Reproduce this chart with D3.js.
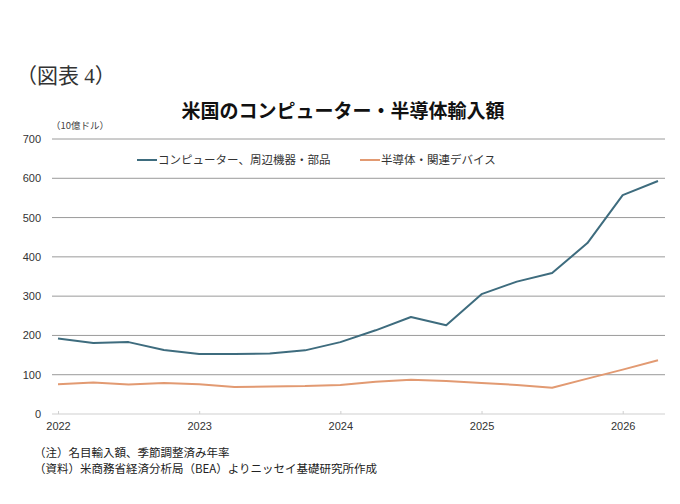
<!DOCTYPE html>
<html>
<head>
<meta charset="utf-8">
<script src="https://cdn.jsdelivr.net/npm/d3@7"></script>
<style>
  body { margin: 0; background: #fff; }
  svg { display: block; }
  text { font-family: "Noto Sans CJK JP", sans-serif; }
</style>
</head>
<body>
<svg id="chart" width="680" height="504"></svg>
<script>
// quarterly, 2022Q1 .. 2026Q2 (10億ドル)
var quarters = ["2022Q1","2022Q2","2022Q3","2022Q4","2023Q1","2023Q2","2023Q3","2023Q4",
  "2024Q1","2024Q2","2024Q3","2024Q4","2025Q1","2025Q2","2025Q3","2025Q4","2026Q1","2026Q2"];
var computers = [192, 181, 183, 163, 153, 153, 154, 162, 183, 213, 247, 226, 305, 337, 359, 435, 557, 593];
var semis = [76, 80, 75, 79, 76, 69, 70, 71, 74, 82, 87, 84, 79, 74, 67, 90, 113, 137];
var yTicks = [0, 100, 200, 300, 400, 500, 600, 700];
var yearLabels = ["2022", "2023", "2024", "2025", "2026"];

var series = [
  { name: "コンピューター、周辺機器・部品", values: computers, color: "#3e6c7e" },
  { name: "半導体・関連デバイス", values: semis, color: "#e29a72" }
];

var svg = d3.select("#chart");

var x = d3.scaleLinear().domain([0, quarters.length - 1]).range([58, 658]);
var y = d3.scaleLinear().domain([0, 700]).range([414, 139]);

// header
svg.append("text").attr("x", 16).attr("y", 83)
  .style("font-family", "'Liberation Serif', 'Noto Sans CJK JP', serif")
  .style("font-size", "21px").attr("fill", "#333").text("（図表 4）");
svg.append("text").attr("x", 343).attr("y", 118).attr("text-anchor", "middle")
  .style("font-size", "19px").style("font-weight", "bold").attr("fill", "#111")
  .text("米国のコンピューター・半導体輸入額");
svg.append("text").attr("x", 51).attr("y", 129)
  .style("font-size", "9.5px").attr("fill", "#444").text("（10億ドル）");

// grid
svg.append("g").selectAll("line").data(yTicks.filter(function(d){ return d > 0; }))
  .enter().append("line")
  .attr("x1", 52).attr("x2", 665)
  .attr("y1", function(d){ return y(d); }).attr("y2", function(d){ return y(d); })
  .attr("stroke", "#9a9a9a").attr("stroke-width", 1);

svg.append("line").attr("x1", 52).attr("x2", 665).attr("y1", y(0)).attr("y2", y(0))
  .attr("stroke", "#cfcfcf").attr("stroke-width", 1);

// y labels
svg.append("g").selectAll("text").data(yTicks).enter().append("text")
  .attr("x", 41).attr("y", function(d){ return y(d) + 4; })
  .attr("text-anchor", "end")
  .style("font-family", "'Liberation Sans Narrow', 'Liberation Sans', sans-serif")
  .style("font-size", "11px").attr("fill", "#333")
  .text(function(d){ return d; });

// x labels, one per year at Q1
var xAxis = d3.axisBottom(x)
  .tickValues(yearLabels.map(function(d, i){ return i * 4; }))
  .tickFormat(function(d, i){ return yearLabels[i]; })
  .tickSize(3);
var gx = svg.append("g").attr("transform", "translate(0," + y(0) + ")").call(xAxis);
gx.select(".domain").remove();
gx.selectAll(".tick line").attr("stroke", "#cfcfcf").attr("y1", -3).attr("y2", 0);
gx.selectAll(".tick text")
  .attr("dy", "0.9em")
  .style("font-family", "'Liberation Sans Narrow', 'Liberation Sans', sans-serif")
  .style("font-size", "11px").attr("fill", "#333");

// lines
var line = d3.line()
  .x(function(d, i){ return x(i); })
  .y(function(d){ return y(d); });

svg.append("g").selectAll("path").data(series).enter().append("path")
  .attr("d", function(s){ return line(s.values); })
  .attr("fill", "none")
  .attr("stroke", function(s){ return s.color; })
  .attr("stroke-width", 2)
  .attr("stroke-linejoin", "round");

// legend
var legendX = [137, 360];
var lg = svg.append("g").selectAll("g").data(series).enter().append("g")
  .attr("transform", function(s, i){ return "translate(" + legendX[i] + ",160)"; });
lg.append("line").attr("x1", 0).attr("x2", 20).attr("y1", 0).attr("y2", 0)
  .attr("stroke", function(s){ return s.color; }).attr("stroke-width", 2);
lg.append("text").attr("x", 21).attr("y", 4)
  .style("font-size", "11.5px").attr("fill", "#333")
  .text(function(s){ return s.name; });

// notes
var notes = ["（注）名目輸入額、季節調整済み年率", "（資料）米商務省経済分析局（BEA）よりニッセイ基礎研究所作成"];
svg.append("g").selectAll("text").data(notes).enter().append("text")
  .attr("x", 34).attr("y", function(d, i){ return 457 + i * 16; })
  .style("font-size", "11.5px").attr("fill", "#222")
  .text(function(d){ return d; });
</script>
</body>
</html>
